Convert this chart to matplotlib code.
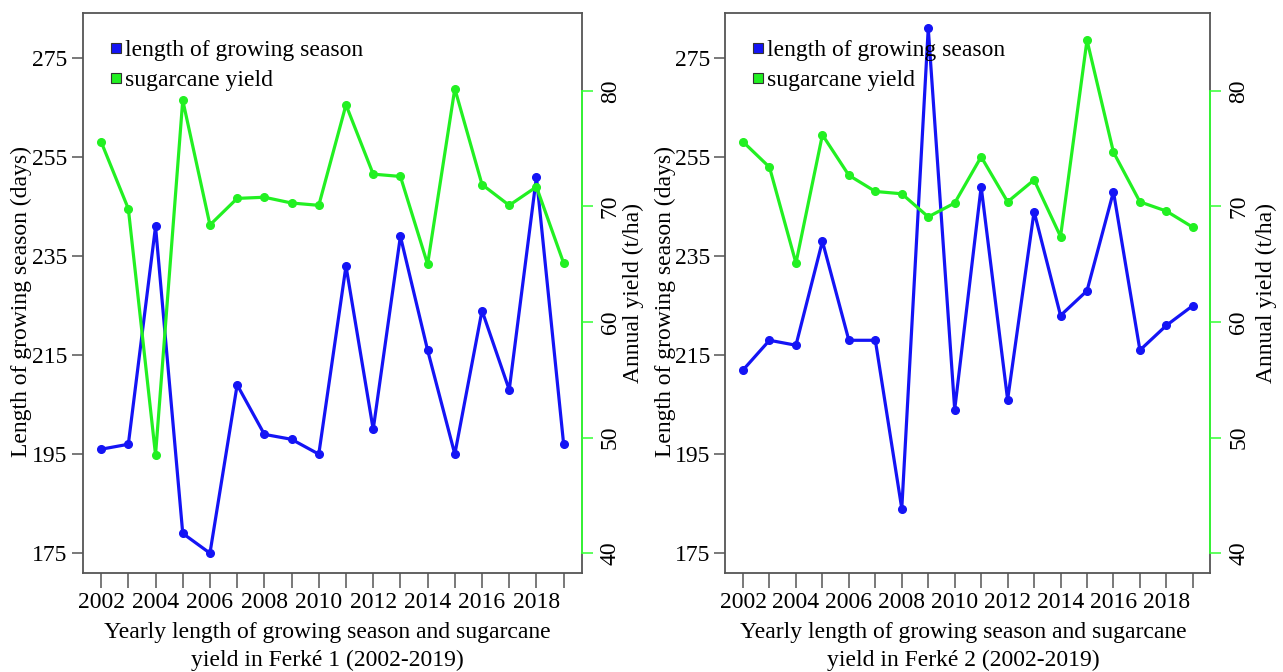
import matplotlib
matplotlib.use("Agg")
import matplotlib.pyplot as plt
from matplotlib.lines import Line2D

years = list(range(2002, 2020))

# Ferké 1
season_f1 = [196, 197, 241, 179, 175, 209, 199, 198, 195, 233, 200, 239, 216, 195, 224, 208, 251, 197]
yield_f1 = [75.6, 69.8, 48.5, 79.2, 68.4, 70.7, 70.8, 70.3, 70.1, 78.8, 72.8, 72.6, 65.0, 80.2, 71.9, 70.1, 71.7, 65.1]

# Ferké 2
season_f2 = [212, 218, 217, 238, 218, 218, 184, 281, 204, 249, 206, 244, 223, 228, 248, 216, 221, 225]
yield_f2 = [75.6, 73.4, 65.1, 76.2, 72.7, 71.3, 71.1, 69.1, 70.3, 74.3, 70.4, 72.3, 67.4, 84.4, 74.7, 70.4, 69.6, 68.2]

season_ticks = [175, 195, 215, 235, 255, 275]
yield_ticks = [40, 50, 60, 70, 80]
year_labels = [str(y) if y % 2 == 0 else "" for y in years]

titles = ["Yearly length of growing season and sugarcane\nyield in Ferké 1 (2002-2019)",
          "Yearly length of growing season and sugarcane\nyield in Ferké 2 (2002-2019)"]
legend_labels = ["length of growing season", "sugarcane yield"]

plt.rcParams['font.family'] = ['Liberation Serif', 'DejaVu Serif']

BLUE = "#1414f5"
GREEN = "#22f022"
SPINE_GREEN = "#33ff33"
FRAME = "#555555"
FS = 17

fig = plt.figure(figsize=(12.83, 6.72), dpi=100)

W, H = 1283, 672
# panel geometry in pixels: axes left/right, label centres, legend left
panels = [
    (82.9, 581.6, season_f1, yield_f1, titles[0], 20, 635, 110),
    (725.3, 1210.3, season_f2, yield_f2, titles[1], 664, 1268, 752),
]
bottom_px, top_px = 573, 13

for (x0, x1, season, yld, title, lab_l, lab_r, leg_x) in panels:
    wpx = x1 - x0
    ax = fig.add_axes([x0 / W, 1 - bottom_px / H, wpx / W, (bottom_px - top_px) / H])
    ax.plot(years, season, color=BLUE, lw=2.3, marker='o', ms=5.5, zorder=3)
    ax.set_xlim(2001.33, 2019.66)
    ax.set_ylim(171.0, 284.1)
    ax.set_yticks(season_ticks)
    ax.set_xticks(years)
    ax.set_xticklabels(year_labels)
    for s in ax.spines.values():
        s.set_color(FRAME)
        s.set_linewidth(1.3)
    ax.tick_params(axis='both', direction='out', colors=FRAME, labelcolor='black',
                   labelsize=FS, width=1.1)
    ax.tick_params(axis='x', length=11, pad=3)
    ax.tick_params(axis='y', length=8, pad=3)
    ax.set_ylabel("Length of growing season (days)", fontsize=FS)
    ax.yaxis.set_label_coords((lab_l + 12 - x0) / wpx, 0.485)
    ax.set_xlabel(title, fontsize=FS, linespacing=1.45)
    ax.xaxis.set_label_coords(0.49, -0.087)
    ax.xaxis.label.set_va('top')

    ax2 = ax.twinx()
    ax2.plot(years, yld, color=GREEN, lw=2.3, marker='o', ms=5.5, zorder=3)
    ax2.set_ylim(38.27, 86.75)
    ax2.set_yticks(yield_ticks)
    for k in ['left', 'top', 'bottom']:
        ax2.spines[k].set_visible(False)
    ax2.spines['right'].set_color(SPINE_GREEN)
    ax2.spines['right'].set_linewidth(1.3)
    ax2.spines['right'].set_bounds(40, 80)
    ax2.tick_params(axis='y', direction='out', colors=SPINE_GREEN, labelcolor='black',
                    labelsize=FS, length=8, width=1.1, pad=5, labelrotation=90)
    for lab in ax2.get_yticklabels():
        lab.set_va('center')
    ax2.set_ylabel("Annual yield (t/ha)", fontsize=FS)
    ax2.yaxis.set_label_coords((lab_r - 12 - x0) / wpx, 0.5)

    handles = [Line2D([], [], linestyle='none', marker='s', ms=6.5, markerfacecolor=BLUE,
                      markeredgecolor='#333333', markeredgewidth=0.8),
               Line2D([], [], linestyle='none', marker='s', ms=6.5, markerfacecolor=GREEN,
                      markeredgecolor='#333333', markeredgewidth=0.8)]
    ax2.legend(handles, legend_labels, loc='upper left',
               bbox_to_anchor=((leg_x - x0) / wpx, 0.953),
               frameon=False, fontsize=FS, handlelength=0.5, handletextpad=0.15,
               labelspacing=0.37, borderaxespad=0.0, borderpad=0.0)

fig.savefig("out.png", dpi=100)
